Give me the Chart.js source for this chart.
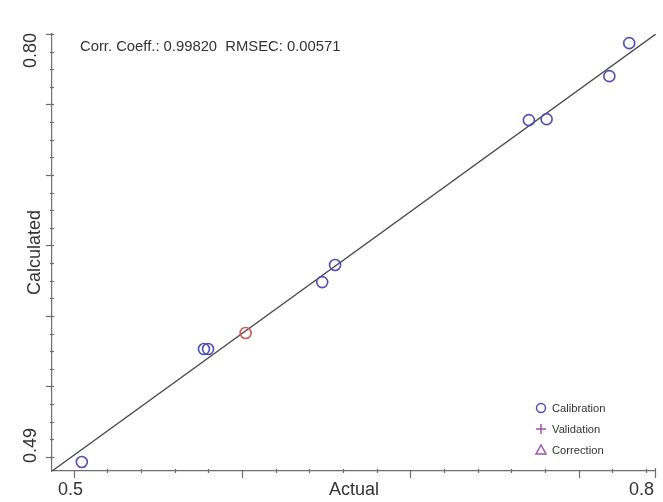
<!DOCTYPE html>
<html>
<head>
<meta charset="utf-8">
<script src="https://cdn.jsdelivr.net/npm/chart.js@4/dist/chart.umd.min.js"></script>
<style>
  html, body { margin: 0; padding: 0; background: #ffffff; }
  #wrap { width: 663px; height: 502px; }
</style>
</head>
<body>
<div id="wrap"><canvas id="c" width="663" height="502"></canvas></div>
<script>
// Calibration samples: reference (actual) vs. model-predicted (calculated)
const calActual     = [0.5053, 0.5680, 0.5701, 0.5894, 0.6287, 0.6353, 0.7348, 0.7439, 0.7761, 0.7863];
const calCalculated = [0.4964, 0.5765, 0.5765, 0.5879, 0.6240, 0.6361, 0.7389, 0.7396, 0.7701, 0.7935];
const calHighlighted = [3];          // selected sample, drawn in red

// Validation and correction sets (empty in this run)
const valActual = [], valCalculated = [];
const corActual = [], corCalculated = [];

// Axis range shared by both axes and the 1:1 target line
const axisMin = 0.49, axisMax = 0.80;
const targetLine = [0.49, 0.80];

// Tick marks and the end labels
const yMajorTicks = [0.50, 0.55, 0.60, 0.65, 0.70, 0.75, 0.80];
const yMinorStep = 0.0125;
const xTickStart = 0.5012, xTickStep = 0.01728, xMajorEvery = 5;
const xTickLabels = ['0.5', '0.8'];
const yTickLabels = ['0.49', '0.80'];
const statsText = 'Corr. Coeff.: 0.99820  RMSEC: 0.00571';

const FONT = "'Liberation Sans', Arial, sans-serif";
const BLUE = '#4f4fb8';
const RED = '#d0585a';
const PURPLE = '#a050b0';
const AXIS = '#6e6e6e';
const TEXT = '#333333';

const toPts = (xs, ys) => xs.map((v, i) => ({ x: v, y: ys[i] }));

// Axis tick marks, end labels, statistics text and legend
const decor = {
  id: 'decor',
  afterDraw(chart) {
    const { ctx, chartArea: a, scales: { x, y } } = chart;
    ctx.save();
    ctx.strokeStyle = AXIS;
    ctx.lineWidth = 1.2;

    // y-axis: minor dots across the line, major ticks outward
    for (let v = yMajorTicks[0]; v <= axisMax + 1e-9; v += yMinorStep) {
      const py = Math.round(y.getPixelForValue(v)) + 0.5;
      ctx.beginPath(); ctx.moveTo(a.left - 2, py); ctx.lineTo(a.left + 2, py); ctx.stroke();
    }
    yMajorTicks.forEach(v => {
      const py = Math.round(y.getPixelForValue(v)) + 0.5;
      ctx.beginPath(); ctx.moveTo(a.left - 6, py); ctx.lineTo(a.left, py); ctx.stroke();
    });

    // x-axis ticks
    let k = 0;
    for (let v = xTickStart; v <= axisMax + 1e-9; v += xTickStep, k++) {
      const px = Math.round(x.getPixelForValue(v)) + 0.5;
      ctx.beginPath();
      if (k % xMajorEvery === 0) { ctx.moveTo(px, a.bottom); ctx.lineTo(px, a.bottom + 7); }
      else { ctx.moveTo(px, a.bottom - 2); ctx.lineTo(px, a.bottom + 2); }
      ctx.stroke();
    }
    const pe = Math.round(x.getPixelForValue(axisMax)) - 0.5;
    ctx.beginPath(); ctx.moveTo(pe, a.bottom - 3); ctx.lineTo(pe, a.bottom + 7); ctx.stroke();

    // end labels
    ctx.fillStyle = TEXT;
    ctx.font = '18px ' + FONT;
    ctx.textBaseline = 'middle';
    ctx.textAlign = 'center';
    ctx.fillText(xTickLabels[0], x.getPixelForValue(0.5) - 1, 490);
    ctx.textAlign = 'right';
    ctx.fillText(xTickLabels[1], a.right - 2, 490);

    ctx.save();
    ctx.translate(31, y.getPixelForValue(axisMax) - 1);
    ctx.rotate(-Math.PI / 2);
    ctx.textAlign = 'right';
    ctx.fillText(yTickLabels[1], 0, 0);
    ctx.restore();
    ctx.save();
    ctx.translate(31, a.bottom - 8);
    ctx.rotate(-Math.PI / 2);
    ctx.textAlign = 'left';
    ctx.fillText(yTickLabels[0], 0, 0);
    ctx.restore();

    // statistics
    ctx.font = '14.8px ' + FONT;
    ctx.textAlign = 'left';
    ctx.fillStyle = TEXT;
    ctx.fillText(statsText, 80, 47);

    // legend
    const rows = chart.data.datasets.filter(d => d.inLegend);
    ctx.font = '11.2px ' + FONT;
    rows.forEach((d, i) => {
      const cy = 408 + i * 21, cx = 541;
      ctx.strokeStyle = d.legendColor;
      ctx.lineWidth = 1.5;
      ctx.beginPath();
      if (d.pointStyle === 'circle') {
        ctx.arc(cx, cy, 4.5, 0, Math.PI * 2);
      } else if (d.pointStyle === 'cross') {
        ctx.moveTo(cx - 5, cy); ctx.lineTo(cx + 5, cy);
        ctx.moveTo(cx, cy - 5); ctx.lineTo(cx, cy + 5);
      } else if (d.pointStyle === 'triangle') {
        ctx.moveTo(cx, cy - 5); ctx.lineTo(cx + 5, cy + 4); ctx.lineTo(cx - 5, cy + 4); ctx.closePath();
      }
      ctx.stroke();
      ctx.fillStyle = TEXT;
      ctx.fillText(d.label, 552, cy + 1);
    });
    ctx.restore();
  }
};

new Chart(document.getElementById('c'), {
  type: 'scatter',
  data: {
    datasets: [
      {
        label: 'Calibration',
        inLegend: true,
        legendColor: BLUE,
        data: toPts(calActual, calCalculated),
        pointStyle: 'circle',
        pointRadius: 5.5,
        pointBorderWidth: 1.6,
        pointBackgroundColor: 'rgba(0,0,0,0)',
        pointBorderColor: calActual.map((_, i) => calHighlighted.includes(i) ? RED : BLUE),
        order: 1
      },
      {
        label: 'Validation',
        inLegend: true,
        legendColor: PURPLE,
        data: toPts(valActual, valCalculated),
        pointStyle: 'cross',
        pointRadius: 5,
        pointBorderColor: PURPLE,
        order: 1
      },
      {
        label: 'Correction',
        inLegend: true,
        legendColor: PURPLE,
        data: toPts(corActual, corCalculated),
        pointStyle: 'triangle',
        pointRadius: 5,
        pointBorderColor: PURPLE,
        pointBackgroundColor: 'rgba(0,0,0,0)',
        order: 1
      },
      {
        type: 'line',
        label: 'Target',
        data: toPts(targetLine, targetLine),
        borderColor: '#4a4a4a',
        borderWidth: 1.4,
        pointRadius: 0,
        showLine: true,
        order: 2
      }
    ]
  },
  options: {
    responsive: false,
    animation: false,
    devicePixelRatio: 1,
    layout: { padding: { top: 34, right: 3, bottom: 0, left: 0 } },
    plugins: { legend: { display: false }, tooltip: { enabled: false } },
    scales: {
      x: {
        type: 'linear',
        min: axisMin, max: axisMax,
        grid: { display: false, drawTicks: false },
        border: { color: AXIS, width: 1.2 },
        ticks: { display: false },
        title: { display: true, text: 'Actual', color: TEXT, font: { family: FONT, size: 18 }, padding: { top: 0, bottom: 1 } },
        afterFit: s => { s.height = 31; }
      },
      y: {
        type: 'linear',
        min: axisMin, max: axisMax,
        grid: { display: false, drawTicks: false },
        border: { color: AXIS, width: 1.2 },
        ticks: { display: false },
        title: { display: true, text: 'Calculated', color: TEXT, font: { family: FONT, size: 18 }, padding: { top: 24, bottom: 0 } },
        afterFit: s => { s.width = 52; }
      }
    }
  },
  plugins: [decor]
});
</script>
</body>
</html>
